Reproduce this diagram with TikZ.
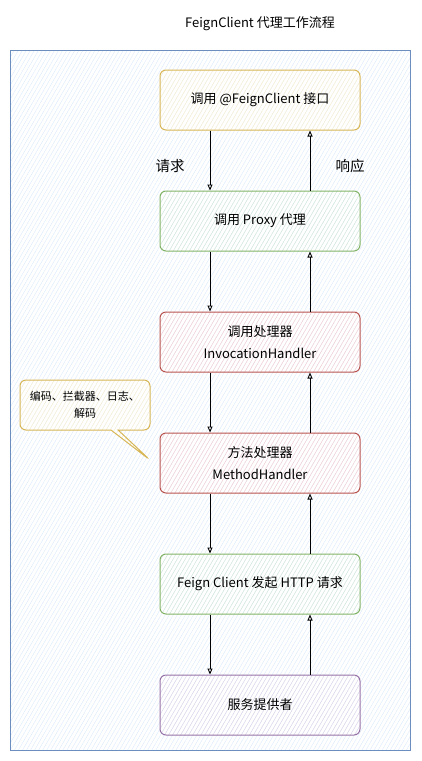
\documentclass[tikz,border=0pt]{standalone}
\usepackage{fontspec}
\setmainfont{Noto Sans CJK SC}
\usepackage{tikz}
\usetikzlibrary{positioning}
\usetikzlibrary{arrows.meta}
\usetikzlibrary{patterns.meta}
\usetikzlibrary{shapes.callouts}

\definecolor{frameline}{HTML}{6C8EBF}
\definecolor{framefill}{HTML}{DAE8FC}
\definecolor{yelline}{HTML}{D6B656}
\definecolor{yelfill}{HTML}{FFF2CC}
\definecolor{grnline}{HTML}{82B366}
\definecolor{grnfill}{HTML}{D5E8D4}
\definecolor{redline}{HTML}{B85450}
\definecolor{redfill}{HTML}{F8CECC}
\definecolor{purline}{HTML}{9673A6}
\definecolor{purfill}{HTML}{E1D5E7}

\begin{document}
\begin{tikzpicture}[
    x=1pt, y=-1pt, % pixel-like units, y grows downwards
    node distance=60pt, % gap between two steps
    stepbox/.style={
        draw, % border around the step
        rounded corners=6pt, % soft corners
        minimum width=200pt,
        minimum height=60pt,
        align=center, % two-line texts
        font=\fontsize{13}{22}\selectfont,
        line width=1pt
    },
    hatch/.style={
        fill=#1!35,
        pattern={Lines[angle=60,distance=3.5pt,line width=0.4pt]},
        pattern color=#1
    },
    flow/.style={-{Triangle[open,length=6pt,width=5pt]}, line width=0.9pt},
    tag/.style={font=\fontsize{14.5}{16}\selectfont}
]
\useasboundingbox (0,0) rectangle (421,761);

% title
\node[font=\fontsize{13}{15}\selectfont] (title) at (260,24) {FeignClient 代理工作流程};

% outer frame
\path[hatch=framefill, draw=frameline, line width=1pt] (10,50) rectangle (410,750);

% steps
\node[stepbox, draw=yelline, hatch=yelfill] (call) at (260,100) {调用 @FeignClient 接口};
\node[stepbox, draw=grnline, hatch=grnfill, below=of call] (proxy) {调用 Proxy 代理};
\node[stepbox, draw=redline, hatch=redfill, below=of proxy] (invoke) {调用处理器\\InvocationHandler};
\node[stepbox, draw=redline, hatch=redfill, below=of invoke] (method) {方法处理器\\MethodHandler};
\node[stepbox, draw=grnline, hatch=grnfill, below=of method] (http) {Feign Client 发起 HTTP 请求};
\node[stepbox, draw=purline, hatch=purfill, below=of http] (server) {服务提供者};

% request down, response up
\foreach \a/\b in {call/proxy, proxy/invoke, invoke/method, method/http, http/server} {
    \draw[flow] ([xshift=-50pt]\a.south) -- ([xshift=-50pt]\b.north);
    \draw[flow] ([xshift=50pt]\b.north) -- ([xshift=50pt]\a.south);
}

\node[tag] (req) at (170,166) {请求};
\node[tag] (resp) at (350,166) {响应};

% note on the method handler
\coordinate (tip) at (150,460);
\node[rectangle callout, callout absolute pointer={(tip)}, rounded corners=6pt,
    draw=yelline, hatch=yelfill, line width=1pt,
    minimum width=130pt, minimum height=50pt, align=center,
    font=\fontsize{11}{17}\selectfont] (note) at (85,405) {编码、拦截器、日志、\\解码};
\end{tikzpicture}
\end{document}
